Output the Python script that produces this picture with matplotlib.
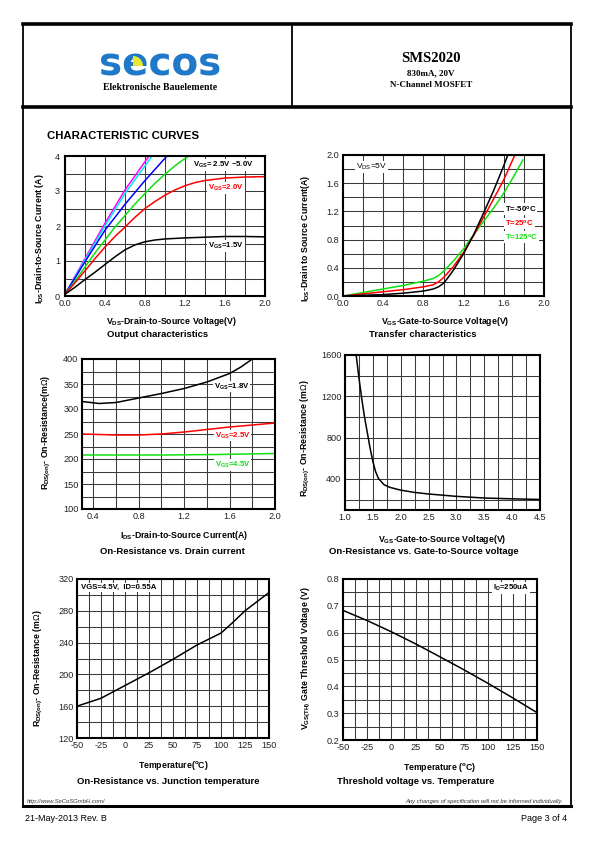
import matplotlib
matplotlib.use('Agg')
import matplotlib.pyplot as plt
from matplotlib.ticker import MultipleLocator, FormatStrFormatter
from matplotlib.patches import Polygon
import numpy as np

plt.rcParams['font.family'] = ['Liberation Sans', 'DejaVu Sans']
plt.rcParams['mathtext.fontset'] = 'custom'
plt.rcParams['mathtext.rm'] = 'Liberation Sans'
plt.rcParams['mathtext.bf'] = 'Liberation Sans:bold'
plt.rcParams['mathtext.it'] = 'Liberation Sans:italic'

# ---------------- data ----------------
# Output characteristics
vds_15 = [0, 0.1, 0.2, 0.3, 0.4, 0.5, 0.6, 0.7, 0.8, 0.9, 1.0, 1.2, 1.4, 1.6, 1.8, 2.0]
id_15 = [0.05, 0.25, 0.47, 0.68, 0.9, 1.12, 1.32, 1.46, 1.55, 1.6, 1.63, 1.66, 1.68, 1.7, 1.7, 1.69]
vds_20 = [0, 0.1, 0.2, 0.3, 0.4, 0.5, 0.6, 0.7, 0.8, 0.9, 1.0, 1.1, 1.2, 1.3, 1.4, 1.6, 1.8, 2.0]
id_20 = [0.05, 0.38, 0.72, 1.07, 1.4, 1.7, 1.97, 2.25, 2.5, 2.7, 2.88, 3.03, 3.15, 3.24, 3.3, 3.37, 3.4, 3.41]
vds_g = [0, 0.1, 0.2, 0.3, 0.4, 0.5, 0.6, 0.7, 0.8, 0.9, 1.0, 1.1, 1.2, 1.24]
id_g = [0.05, 0.42, 0.83, 1.23, 1.6, 1.97, 2.3, 2.63, 2.93, 3.22, 3.48, 3.72, 3.93, 4.0]
vds_b = [0, 0.2, 0.4, 0.6, 0.8, 1.02]
id_b = [0.05, 0.98, 1.88, 2.62, 3.3, 4.0]
vds_c = [0, 0.2, 0.4, 0.6, 0.8, 0.87]
id_c = [0.05, 1.03, 2.0, 2.93, 3.72, 4.0]
vds_m = [0, 0.2, 0.4, 0.6, 0.84]
id_m = [0.05, 1.07, 2.08, 3.03, 4.0]

# Transfer characteristics
vgs_m50 = [0, 0.2, 0.4, 0.6, 0.8, 0.9, 0.95, 1.0, 1.05, 1.1, 1.2, 1.3, 1.4, 1.5, 1.6, 1.64]
ids_m50 = [0, 0.01, 0.02, 0.04, 0.07, 0.1, 0.13, 0.18, 0.27, 0.37, 0.6, 0.87, 1.18, 1.5, 1.85, 2.0]
vgs_25 = [0, 0.2, 0.4, 0.6, 0.8, 0.9, 0.95, 1.0, 1.05, 1.1, 1.2, 1.3, 1.4, 1.5, 1.6, 1.71]
ids_25 = [0, 0.03, 0.06, 0.09, 0.13, 0.16, 0.2, 0.26, 0.34, 0.42, 0.62, 0.86, 1.12, 1.38, 1.65, 2.0]
vgs_125 = [0, 0.2, 0.4, 0.6, 0.8, 0.9, 0.95, 1.0, 1.1, 1.2, 1.3, 1.4, 1.5, 1.6, 1.7, 1.79]
ids_125 = [0, 0.05, 0.1, 0.15, 0.21, 0.25, 0.29, 0.35, 0.5, 0.67, 0.87, 1.06, 1.25, 1.46, 1.7, 1.93]

# On-resistance vs drain current
ids_18 = [0.3, 0.45, 0.6, 0.8, 1.0, 1.2, 1.4, 1.6, 1.7, 1.8]
ron_18 = [315, 311, 313, 322, 331, 341, 354, 371, 384, 400]
ids_r25 = [0.3, 0.6, 0.8, 1.0, 1.2, 1.4, 1.6, 1.8, 2.0]
ron_25 = [250, 248, 248, 250, 254, 259, 264, 268, 272]
ids_45 = [0.3, 1.0, 1.5, 2.0]
ron_45 = [208, 208, 209, 211]

# On-resistance vs gate voltage
vgs_r = [1.2, 1.25, 1.3, 1.35, 1.4, 1.45, 1.5, 1.55, 1.6, 1.7, 1.8, 2.0, 2.25, 2.5, 3.0, 3.5, 4.0, 4.5]
ron_v = [1600, 1380, 1180, 1000, 850, 700, 570, 470, 405, 345, 320, 292, 270, 255, 232, 216, 208, 202]

# On-resistance vs junction temperature
temp_r = [-50, -25, 0, 25, 50, 75, 100, 112, 125, 150]
ron_t = [160, 170, 186, 202, 219, 237, 252, 265, 280, 303]

# Threshold voltage vs temperature
temp_v = [-50, -25, 0, 25, 50, 75, 100, 125, 150]
vth = [0.683, 0.645, 0.603, 0.558, 0.51, 0.461, 0.41, 0.357, 0.302]

# ---------------- figure ----------------
W, H = 595, 842
fig = plt.figure(figsize=(W / 100, H / 100), dpi=100)
bg = fig.add_axes([0, 0, 1, 1])
bg.set_xlim(0, W)
bg.set_ylim(H, 0)
bg.axis('off')

L, R = 23, 571
TOP, HB, FOOT = 24, 107, 806
bg.plot([L, R], [TOP, TOP], color='black', lw=2.6)
bg.plot([L, R], [HB, HB], color='black', lw=2.6)
bg.plot([L, R], [FOOT, FOOT], color='black', lw=2.2)
bg.plot([L, L], [TOP, FOOT], color='black', lw=1.3)
bg.plot([R, R], [TOP, FOOT], color='black', lw=1.3)
bg.plot([292, 292], [TOP, HB], color='black', lw=1.3)

# logo
bg.text(160, 76, 'secos', fontsize=28, fontweight='bold', family='DejaVu Sans',
        color='#1f78c8', ha='center', va='baseline')
th = np.linspace(0, np.pi / 2, 20)
wedge = [(133, 66)] + [(133 + 10 * np.cos(t), 66 - 10 * np.sin(t)) for t in th]
bg.add_patch(Polygon(wedge, closed=True, facecolor='#e8e830', edgecolor='none', zorder=5))
bg.text(160, 90, 'Elektronische Bauelemente', fontsize=7, fontweight='bold',
        family='Liberation Serif', ha='center', va='baseline')

bg.text(431, 62, 'SMS2020', fontsize=10.5, fontweight='bold', family='Liberation Serif',
        ha='center', va='baseline')
bg.text(431, 75, '830mA, 20V', fontsize=6.5, fontweight='bold', family='Liberation Serif',
        ha='center', va='baseline')
bg.text(431, 87, 'N-Channel MOSFET', fontsize=6.5, fontweight='bold', family='Liberation Serif',
        ha='center', va='baseline')

bg.text(47, 139, 'CHARACTERISTIC CURVES', fontsize=8.2, fontweight='bold', ha='left', va='baseline')

# footer
bg.text(27, 803, 'http://www.SeCoSGmbH.com/', fontsize=4.2, style='italic', color='#333333',
        ha='left', va='baseline')
bg.text(563, 803, 'Any changes of specification will not be informed individually.', fontsize=4.2,
        style='italic', color='#333333', ha='right', va='baseline')
bg.text(25, 821, '21-May-2013 Rev. B', fontsize=6.5, ha='left', va='baseline')
bg.text(567, 821, 'Page 3 of 4', fontsize=6.5, ha='right', va='baseline')

# chart titles
for (cx, cy, t) in [(158, 337, 'Output characteristics'),
                    (423, 337, 'Transfer characteristics'),
                    (172, 554, 'On-Resistance vs. Drain current'),
                    (424, 554, 'On-Resistance vs. Gate-to-Source voltage'),
                    (168, 784, 'On-Resistance vs. Junction temperature'),
                    (416, 784, 'Threshold voltage vs. Temperature')]:
    bg.text(cx, cy, t, fontsize=6.8, fontweight='bold', ha='center', va='baseline')


def px_axes(x0, y0, x1, y1):
    return fig.add_axes([x0 / W, 1 - y1 / H, (x1 - x0) / W, (y1 - y0) / H])


def style(ax, xlim, ylim, xmaj, xmin, ymaj, ymin, xfmt, yfmt, xl, yl, xlc, ylc):
    ax.set_xlim(xlim)
    ax.set_ylim(ylim)
    ax.xaxis.set_major_locator(MultipleLocator(xmaj))
    ax.xaxis.set_minor_locator(MultipleLocator(xmin))
    ax.yaxis.set_major_locator(MultipleLocator(ymaj))
    ax.yaxis.set_minor_locator(MultipleLocator(ymin))
    ax.xaxis.set_major_formatter(FormatStrFormatter(xfmt))
    ax.yaxis.set_major_formatter(FormatStrFormatter(yfmt))
    ax.grid(which='both', color='#3a3a3a', lw=0.75)
    ax.set_axisbelow(True)
    ax.tick_params(which='both', length=0, labelsize=6.6, pad=2.5, colors='#222222')
    for s in ax.spines.values():
        s.set_linewidth(1.5)
    ax.set_xlabel(xl, fontsize=6.3, fontweight='bold')
    ax.set_ylabel(yl, fontsize=6.3, fontweight='bold')
    ax.xaxis.set_label_coords(*xlc)
    ax.yaxis.set_label_coords(*ylc)


box = dict(facecolor='white', edgecolor='none', pad=0.6)
lw = 1.1

# Chart 1
ax1 = px_axes(65, 156, 265, 296)
ax1.plot(vds_m, id_m, color='#ff00ff', lw=lw)
ax1.plot(vds_c, id_c, color='#00e8f0', lw=lw)
ax1.plot(vds_b, id_b, color='#0000ff', lw=lw)
ax1.plot(vds_g, id_g, color='#10e010', lw=lw)
ax1.plot(vds_20, id_20, color='#ff0000', lw=lw)
ax1.plot(vds_15, id_15, color='black', lw=lw)
style(ax1, (0, 2), (0, 4), 0.4, 0.2, 1, 0.5, '%.1f', '%d',
      r'V$_{\mathbf{DS}}$-Drain-to-Source Voltage(V)',
      r'I$_{\mathbf{DS}}$-Drain-to-Source Current (A)', (0.53, -0.135), (-0.095, 0.41))
ax1.tick_params(axis='y', pad=3.5)
ax1.text(1.28, 3.74, r'V$_{\mathbf{GS}}$= 2.5V ~5.0V', fontsize=5.6, fontweight='bold',
         ha='left', va='center', bbox=box)
ax1.text(1.43, 3.08, r'V$_{\mathbf{GS}}$=2.0V', fontsize=5.6, fontweight='bold', color='#ff0000',
         ha='left', va='center', bbox=box)
ax1.text(1.43, 1.43, r'V$_{\mathbf{GS}}$=1.5V', fontsize=5.6, fontweight='bold',
         ha='left', va='center', bbox=box)

# Chart 2
ax2 = px_axes(343, 155, 544, 296)
ax2.plot(vgs_125, ids_125, color='#10e010', lw=lw)
ax2.plot(vgs_25, ids_25, color='#ff0000', lw=lw)
ax2.plot(vgs_m50, ids_m50, color='black', lw=lw)
style(ax2, (0, 2), (0, 2), 0.4, 0.2, 0.4, 0.2, '%.1f', '%.1f',
      r'V$_{\mathbf{GS}}$-Gate-to-Source Voltage(V)',
      r'I$_{\mathbf{DS}}$-Drain to Source Current(A)', (0.51, -0.135), (-0.156, 0.41))
ax2.text(0.13, 1.83, r'V$_{\mathrm{DS}}$=5V', fontsize=6, ha='left', va='center', bbox=box)
ax2.text(1.61, 1.23, r'T=-50$^{\mathbf{o}}$C', fontsize=5.6, fontweight='bold', color='black',
         ha='left', va='center', bbox=box)
ax2.text(1.61, 1.03, r'T=25$^{\mathbf{o}}$C', fontsize=5.6, fontweight='bold', color='#ff0000',
         ha='left', va='center', bbox=box)
ax2.text(1.61, 0.84, r'T=125$^{\mathbf{o}}$C', fontsize=5.6, fontweight='bold', color='#10e010',
         ha='left', va='center', bbox=box)

# Chart 3
ax3 = px_axes(82, 359, 275, 509)
ax3.plot(ids_18, ron_18, color='black', lw=lw)
ax3.plot(ids_r25, ron_25, color='#ff0000', lw=lw)
ax3.plot(ids_45, ron_45, color='#10e010', lw=lw)
style(ax3, (0.3, 2.0), (100, 400), 0.4, 0.2, 50, 25, '%.1f', '%d',
      r'I$_{\mathbf{DS}}$-Drain-to-Source Current(A)',
      r'R$_{\mathbf{DS(on)}}$- On-Resistance(m$\Omega$)', (0.53, -0.135), (-0.149, 0.51))
ax3.text(1.46, 345, r'V$_{\mathbf{GS}}$=1.8V', fontsize=5.6, fontweight='bold', color='black',
         ha='left', va='center', bbox=box)
ax3.text(1.47, 247, r'V$_{\mathbf{GS}}$=2.5V', fontsize=5.6, fontweight='bold', color='#ff0000',
         ha='left', va='center', bbox=box)
ax3.text(1.47, 188, r'V$_{\mathbf{GS}}$=4.5V', fontsize=5.6, fontweight='bold', color='#10e010',
         ha='left', va='center', bbox=box)

# Chart 4
ax4 = px_axes(345, 355, 540, 510)
ax4.plot(vgs_r, ron_v, color='black', lw=lw)
style(ax4, (1.0, 4.5), (100, 1600), 0.5, 0.25, 400, 200, '%.1f', '%d',
      r'V$_{\mathbf{GS}}$-Gate-to-Source Voltage(V)',
      r'R$_{\mathbf{DS(on)}}$- On-Resistance (m$\Omega$)', (0.50, -0.15), (-0.171, 0.46))

# Chart 5
ax5 = px_axes(77, 579, 269, 738)
ax5.plot(temp_r, ron_t, color='black', lw=lw)
style(ax5, (-50, 150), (120, 320), 25, 12.5, 40, 20, '%d', '%d',
      r'Temperature($^{\mathbf{o}}$C)',
      r'R$_{\mathbf{DS(on)}}$- On-Resistance (m$\Omega$)', (0.50, -0.132), (-0.167, 0.44))
ax5.text(-46, 309, 'VGS=4.5V,  ID=0.55A', fontsize=5.6, fontweight='bold',
         ha='left', va='center', bbox=box)

# Chart 6
ax6 = px_axes(343, 579, 537, 740)
ax6.plot(temp_v, vth, color='black', lw=lw)
style(ax6, (-50, 150), (0.2, 0.8), 25, 12.5, 0.1, 0.05, '%d', '%.1f',
      r'Temperature ($^{\mathbf{o}}$C)',
      r'V$_{\mathbf{GS(TH)}}$ Gate Threshold Voltage (V)', (0.50, -0.13), (-0.153, 0.51))
ax6.text(123, 0.765, r'I$_{\mathbf{D}}$=250uA', fontsize=5.6, fontweight='bold',
         ha='center', va='center', bbox=box)

fig.savefig('out.png', dpi=100)
